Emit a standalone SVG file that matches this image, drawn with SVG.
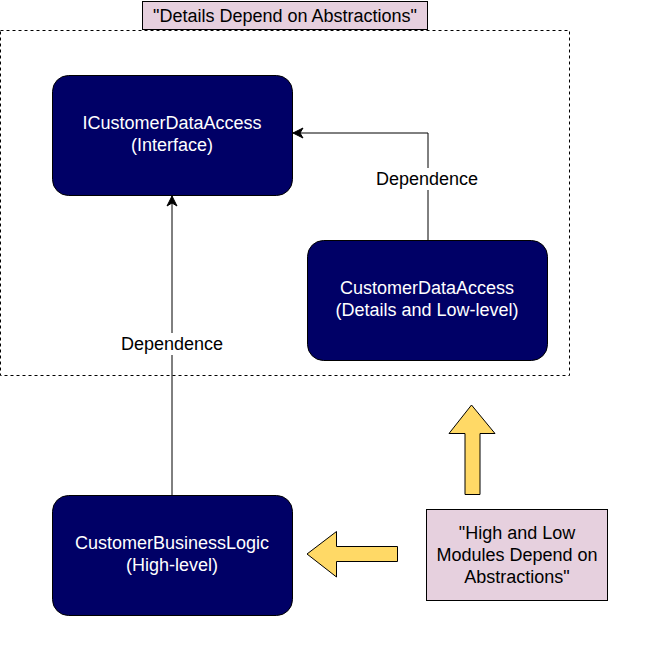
<svg xmlns="http://www.w3.org/2000/svg" width="665" height="655" viewBox="0 0 665 655">
<defs>
<style>
text{font-family:"Liberation Sans",Arial,sans-serif;font-size:18px;text-anchor:middle}
.node{fill:#000066;stroke:#000;stroke-width:1}
.nt{fill:#fff}
.note{fill:#E6D0DE;stroke:#000;stroke-width:1}
.big{fill:#FFD966;stroke:#000;stroke-width:1}
.edge{fill:none;stroke:#000;stroke-width:1}
.lbl{fill:#000}
</style>
<marker id="ah" markerWidth="12" markerHeight="12" viewBox="0 0 12 12" refX="11" refY="6" orient="auto" markerUnits="userSpaceOnUse">
<path d="M1,1 L11,6 L1,11 L4,6 Z" fill="#000" stroke="#000" stroke-width="1"/>
</marker>
</defs>
<rect x="0.5" y="30.5" width="569" height="345" fill="none" stroke="#000" stroke-dasharray="3,3"/>
<g id="title">
<rect class="note" x="142.5" y="1.5" width="285" height="28"/>
<text x="285" y="22" fill="#000">"Details Depend on Abstractions"</text>
</g>
<g id="connectors">
<path class="edge" d="M428,240 L428,133 L293,133" marker-end="url(#ah)"/>
<rect x="374" y="168" width="108" height="22" fill="#fff"/>
<text class="lbl" x="427" y="185">Dependence</text>
<path class="edge" d="M172,495 L172,196" marker-end="url(#ah)"/>
<rect x="118" y="333" width="108" height="22" fill="#fff"/>
<text class="lbl" x="172" y="350">Dependence</text>
</g>
<g id="ICustomerDataAccess">
<rect class="node" x="52.5" y="75.5" width="240" height="120" rx="16"/>
<text class="nt" x="172" y="129">ICustomerDataAccess</text>
<text class="nt" x="172" y="151">(Interface)</text>
</g>
<g id="CustomerDataAccess">
<rect class="node" x="307.5" y="240.5" width="240" height="120" rx="16"/>
<text class="nt" x="427" y="294">CustomerDataAccess</text>
<text class="nt" x="427" y="316">(Details and Low-level)</text>
</g>
<g id="CustomerBusinessLogic">
<rect class="node" x="52.5" y="495.5" width="240" height="120" rx="16"/>
<text class="nt" x="172" y="549">CustomerBusinessLogic</text>
<text class="nt" x="172" y="571">(High-level)</text>
</g>
<g id="upArrow">
<path class="big" d="M471.5,405 L495,433.5 L480,433.5 L480,494.5 L465,494.5 L465,433.5 L449,433.5 Z"/>
</g>
<g id="leftArrow">
<path class="big" d="M307,554 L336.5,531.5 L336.5,546.5 L397.5,546.5 L397.5,561.5 L336.5,561.5 L336.5,577 Z"/>
</g>
<g id="note">
<rect class="note" x="426.5" y="509.5" width="181" height="91"/>
<text x="517" y="539" fill="#000">"High and Low</text>
<text x="517" y="561" fill="#000">Modules Depend on</text>
<text x="517" y="583" fill="#000">Abstractions"</text>
</g>
</svg>
